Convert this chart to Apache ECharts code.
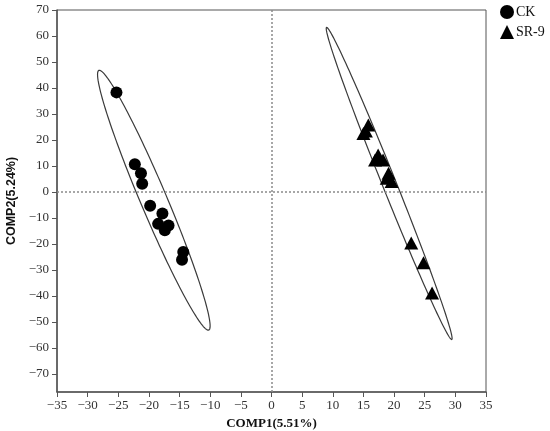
<!DOCTYPE html>
<html>
<head>
<meta charset="utf-8">
<script src="https://cdn.jsdelivr.net/npm/echarts@6/dist/echarts.min.js"></script>
<style>
  html,body{margin:0;padding:0;background:#fff}
  #main{width:550px;height:431px}
</style>
</head>
<body>
<div id="main"></div>
<script>
// scores
var ckX=[-25.3,-22.3,-21.3,-21.1,-19.8,-17.8,-18.5,-16.8,-17.4,-14.4,-14.6]
var ckY=[38.3,10.6,7.2,3.1,-5.3,-8.3,-12.3,-12.9,-14.8,-23.1,-26.1]
var srX=[15.8,15.0,15.4,17.4,16.9,18.2,19.1,18.8,19.6,22.8,24.8,26.2]
var srY=[25.7,22.5,23.4,14.2,12.3,12.3,7.2,5.3,4.0,-19.7,-27.3,-38.9]
// confidence ellipses: two tips of the long axis + half width (data units)
var ckTips=[[-28.1,46.8],[-10.3,-53.2]]
var ckHalf=2.3
var srTips=[[9.0,63.3],[29.4,-56.8]]
var srHalf=1.2
var yTicks=[-70,-60,-50,-40,-30,-20,-10,0,10,20,30,40,50,60,70]

var serif="Liberation Serif"
function minus(v){return String(v).replace('-','\u2212')}
function pairs(xs,ys){return xs.map(function(x,i){return [x,ys[i]]})}

var ellipses=[[ckTips,ckHalf],[srTips,srHalf]]

function ellipseItem(params,api){
  var e=ellipses[params.dataIndex]
  var p1=e[0][0],p2=e[0][1],b=e[1]
  var cx=(p1[0]+p2[0])/2,cy=(p1[1]+p2[1])/2
  var ax=p2[0]-cx,ay=p2[1]-cy
  var len=Math.sqrt(ax*ax+ay*ay)
  var px=-ay/len*b,py=ax/len*b
  var pts=[]
  for(var i=0;i<=180;i++){
    var t=i/180*Math.PI*2
    pts.push(api.coord([cx+Math.cos(t)*ax+Math.sin(t)*px,cy+Math.cos(t)*ay+Math.sin(t)*py]))
  }
  return {type:'polygon',shape:{points:pts},style:{fill:'none',stroke:'#3a3a3a',lineWidth:1.2}}
}

var chart=echarts.init(document.getElementById('main'))
var axisCol='#555'
var option={
  animation:false,
  backgroundColor:'#fff',
  textStyle:{fontFamily:serif},
  legend:{
    orient:'vertical',left:500,top:5,padding:0,itemWidth:14,itemHeight:14,itemGap:6,
    textStyle:{fontFamily:serif,fontSize:14,color:'#111',padding:[0,0,0,-3]},
    data:[{name:'CK',icon:'circle'},{name:'SR-9',icon:'triangle'}]
  },
  grid:{left:57,right:64,top:10,bottom:39,outerBoundsMode:'none',containLabel:false,show:true,borderColor:axisCol,borderWidth:1},
  xAxis:{
    type:'value',min:-35,max:35,interval:5,
    name:'COMP1(5.51%)',nameLocation:'middle',nameGap:23,
    nameTextStyle:{fontFamily:serif,fontWeight:'bold',fontSize:13,color:'#111'},
    axisLine:{onZero:false,lineStyle:{color:axisCol,width:1.5}},
    axisTick:{show:true,length:5,lineStyle:{color:axisCol}},
    axisLabel:{fontFamily:serif,fontSize:13,color:'#333',margin:7,formatter:minus,showMinLabel:true,showMaxLabel:true},
    splitLine:{show:false}
  },
  yAxis:{
    type:'value',min:-77,max:70,
    name:'COMP2(5.24%)',nameLocation:'middle',nameGap:35,
    nameTextStyle:{fontFamily:'Liberation Sans',fontWeight:'bold',fontSize:12.5,color:'#111'},
    axisLine:{onZero:false,lineStyle:{color:axisCol,width:1.5}},
    axisTick:{show:true,length:5,customValues:yTicks,lineStyle:{color:axisCol}},
    axisLabel:{fontFamily:serif,fontSize:13,color:'#333',margin:8,customValues:yTicks,formatter:minus},
    splitLine:{show:false}
  },
  series:[
    {
      type:'custom',silent:true,renderItem:ellipseItem,
      data:[0,1],encode:{x:-1,y:-1},z:1
    },
    {
      name:'CK',type:'scatter',symbol:'circle',symbolSize:12,
      itemStyle:{color:'#000',opacity:1},data:pairs(ckX,ckY),z:3,
      markLine:{
        silent:true,symbol:'none',label:{show:false},
        lineStyle:{color:'#8a8a8a',type:[2,2],width:1.5},
        data:[{xAxis:0},{yAxis:0}]
      }
    },
    {
      name:'SR-9',type:'scatter',symbol:'triangle',symbolSize:[14,13],
      itemStyle:{color:'#000',opacity:1},data:pairs(srX,srY),z:3
    }
  ]
}
chart.setOption(option)
</script>
</body>
</html>
